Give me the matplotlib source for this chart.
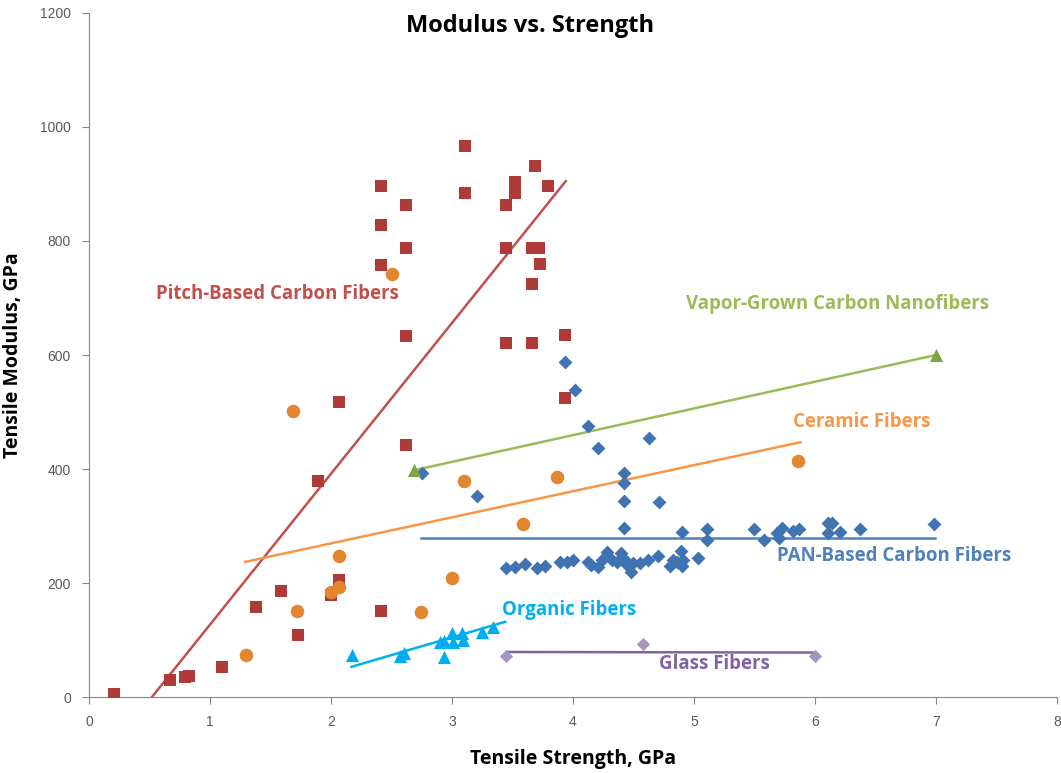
import matplotlib.pyplot as plt

# Pitch-based carbon fibers (strength GPa, modulus GPa)
pitch_x = [0.21, 0.67, 0.79, 0.83, 1.10, 1.38, 1.59, 1.73, 1.89, 2.07, 2.07, 2.00,
           2.41, 2.41, 2.41, 2.41, 2.62, 2.62, 2.62, 2.62, 3.11, 3.11, 3.45, 3.45,
           3.45, 3.52, 3.52, 3.69, 3.79, 3.66, 3.72, 3.73, 3.66, 3.66, 3.93, 3.93]
pitch_y = [5, 30, 35, 37, 53, 158, 186, 109, 379, 517, 205, 179,
           151, 896, 828, 758, 863, 788, 633, 442, 967, 884, 863, 788,
           621, 903, 884, 932, 896, 788, 788, 760, 725, 621, 635, 525]
pitch_line_x = [0.52, 3.94]
pitch_line_y = [0, 905]

# PAN-based carbon fibers
pan_x = [2.75, 3.21, 3.93, 4.02, 4.12, 4.21, 4.63, 4.42, 4.42, 4.42, 4.71, 4.42,
         4.90, 5.11, 5.11, 5.50, 5.58, 5.69, 5.70, 5.73, 5.82, 5.87, 6.11, 6.14,
         6.11, 6.21, 6.37, 6.98,
         3.45, 3.52, 3.60, 3.70, 3.77, 3.89, 3.95, 4.00, 4.12, 4.15, 4.21, 4.24,
         4.28, 4.32, 4.36, 4.40, 4.43, 4.45, 4.48, 4.50, 4.55, 4.62, 4.70, 4.80,
         4.83, 4.89, 4.90, 4.91, 5.03, 4.86]
pan_y = [393, 353, 588, 539, 475, 437, 455, 393, 376, 344, 342, 297,
         290, 295, 275, 295, 276, 288, 279, 296, 292, 295, 305, 305,
         287, 289, 295, 304,
         226, 228, 233, 226, 230, 237, 237, 240, 237, 231, 228, 240,
         254, 240, 237, 252, 240, 232, 219, 235, 235, 240, 248, 230,
         240, 256, 230, 240, 244, 237]
pan_line_x = [2.74, 6.99]
pan_line_y = [279, 279]

# Vapor-grown carbon nanofibers
vgcf_x = [2.69, 7.0]
vgcf_y = [398, 600]

# Ceramic fibers
ceramic_x = [1.30, 1.72, 2.07, 2.00, 2.07, 2.74, 3.00, 1.69, 2.50, 3.10, 3.59, 3.87, 5.86]
ceramic_y = [74, 151, 247, 184, 193, 149, 209, 501, 742, 379, 303, 386, 414]
ceramic_line_x = [1.29, 5.88]
ceramic_line_y = [237, 447]

# Organic fibers
organic_x = [2.17, 2.57, 2.60, 2.93, 2.90, 2.93, 3.00, 3.01, 3.08, 3.09, 3.25, 3.34]
organic_y = [74, 72, 77, 70, 97, 98, 112, 97, 112, 100, 114, 123]
organic_line_x = [2.17, 3.44]
organic_line_y = [53, 132]

# Glass fibers
glass_x = [3.45, 4.58, 6.0]
glass_y = [72, 93, 72]
glass_line_x = [3.45, 6.0]
glass_line_y = [79, 78]

fig = plt.figure(figsize=(10.61, 7.73), dpi=100)
ax = fig.add_axes([0.0839, 0.0983, 0.9123, 0.8849])

ax.plot(pitch_line_x, pitch_line_y, color='#C0504D', lw=1.8)
ax.plot(ceramic_line_x, ceramic_line_y, color='#F79646', lw=1.8)
ax.plot(vgcf_x, vgcf_y, color='#9BBB59', lw=1.8)
ax.plot(pan_line_x, pan_line_y, color='#4F81BD', lw=1.8)
ax.plot(organic_line_x, organic_line_y, color='#00B0F0', lw=1.8)
ax.plot(glass_line_x, glass_line_y, color='#8064A2', lw=1.8)

ax.scatter(pitch_x, pitch_y, marker='s', s=80, color='#AE3B38', zorder=3, linewidths=0)
ax.scatter(pan_x, pan_y, marker='D', s=50, color='#3F73B2', zorder=3, linewidths=0)
ax.scatter(ceramic_x, ceramic_y, marker='o', s=95, color='#E2862F', zorder=3, linewidths=0)
ax.scatter(vgcf_x, vgcf_y, marker='^', s=90, color='#7EA642', zorder=3, linewidths=0)
ax.scatter(organic_x, organic_y, marker='^', s=90, color='#00AEEF', zorder=3, linewidths=0)
ax.scatter(glass_x, glass_y, marker='D', s=45, color='#A594C2', zorder=3, linewidths=0)

lab = dict(fontsize=13.4, fontweight='bold', family=['Open Sans', 'DejaVu Sans'],
           ha='left', va='center')
ax.text(0.55, 707, 'Pitch-Based Carbon Fibers', color='#C0504D', **lab)
ax.text(4.93, 689, 'Vapor-Grown Carbon Nanofibers', color='#9BBB59', **lab)
ax.text(5.82, 482, 'Ceramic Fibers', color='#F79646', **lab)
ax.text(5.69, 247, 'PAN-Based Carbon Fibers', color='#4F81BD', **lab)
ax.text(3.41, 152, 'Organic Fibers', color='#00B0F0', **lab)
ax.text(4.71, 58, 'Glass Fibers', color='#8064A2', **lab)

ax.set_xlim(0, 8)
ax.set_ylim(0, 1200)
ax.set_xticks(range(0, 9))
ax.set_yticks(range(0, 1201, 200))
ax.tick_params(colors='#888888', labelcolor='#595959', labelsize=10, length=5,
               direction='out', pad=8)
for lbl in ax.get_xticklabels() + ax.get_yticklabels():
    lbl.set_family(['Liberation Sans', 'DejaVu Sans'])
for side in ['top', 'right']:
    ax.spines[side].set_visible(False)
for side in ['left', 'bottom']:
    ax.spines[side].set_color('#888888')

ax.set_xlabel('Tensile Strength, GPa', fontsize=14, fontweight='bold',
              family=['Open Sans', 'DejaVu Sans'], labelpad=14)
ax.set_ylabel('Tensile Modulus, GPa', fontsize=14, fontweight='bold',
              family=['Open Sans', 'DejaVu Sans'], labelpad=12)
fig.text(0.4995, 0.966, 'Modulus vs. Strength', fontsize=17, fontweight='bold',
         family=['Open Sans', 'DejaVu Sans'], ha='center', va='center')

plt.savefig('out.png')
